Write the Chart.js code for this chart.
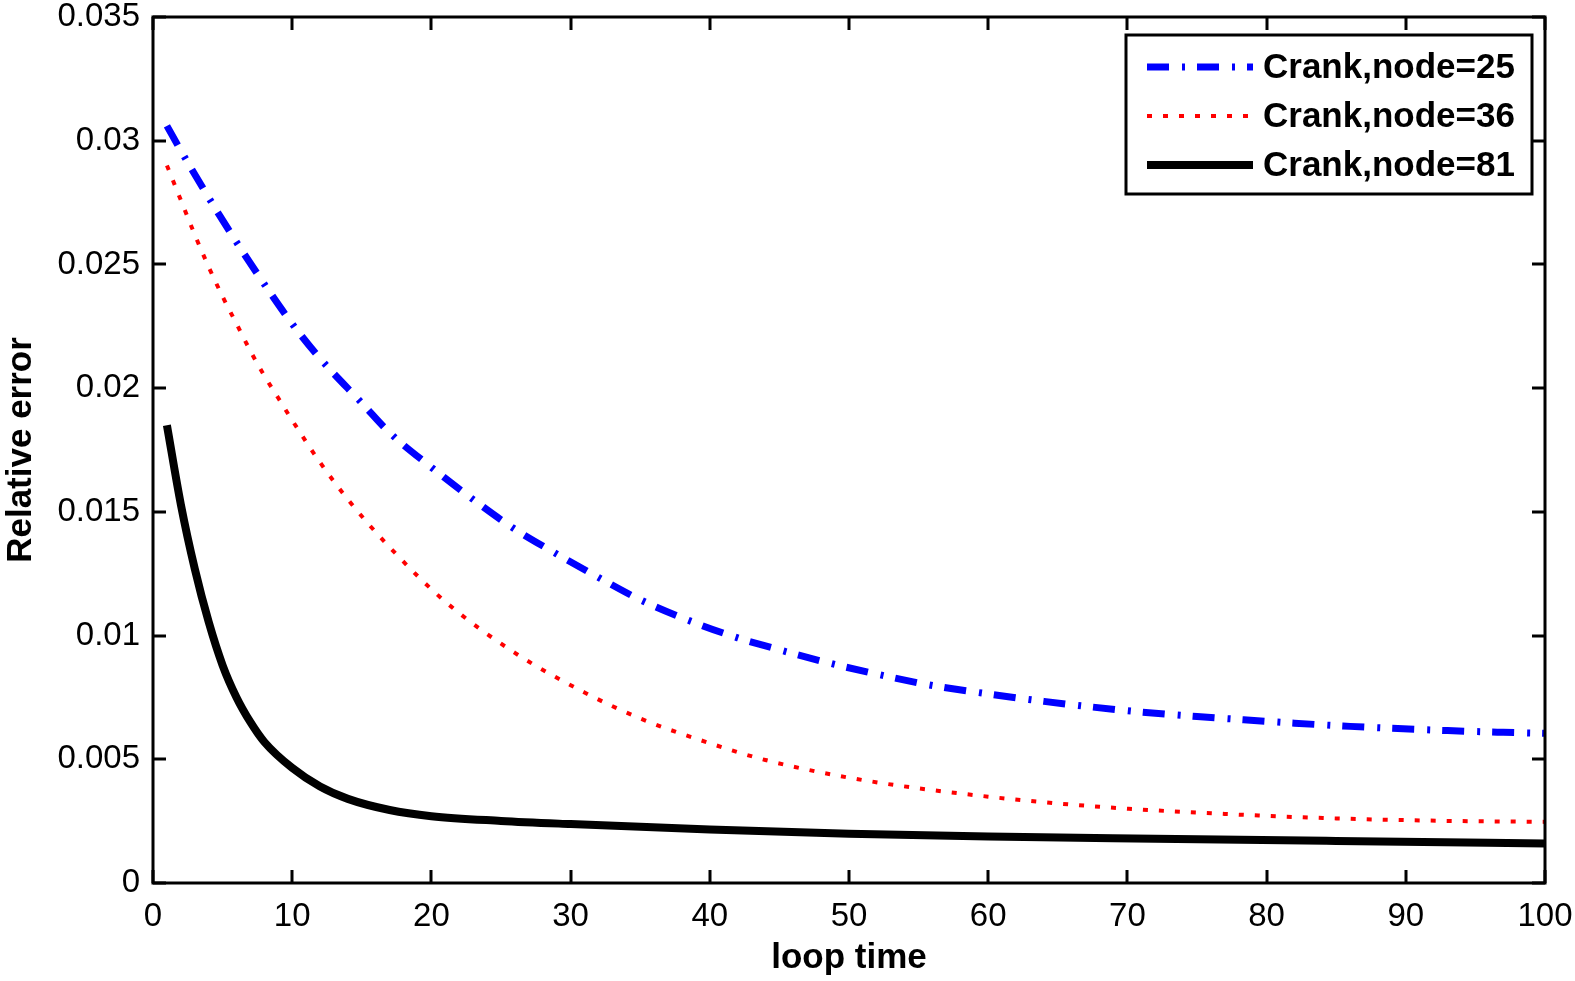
<!DOCTYPE html>
<html>
<head>
<meta charset="utf-8">
<script src="https://cdn.jsdelivr.net/npm/chart.js@4/dist/chart.umd.min.js"></script>
<style>
  html, body { margin: 0; padding: 0; background: #ffffff; }
  #wrap { width: 1575px; height: 981px; }
</style>
</head>
<body>
<div id="wrap"><canvas id="c" width="1575" height="981"></canvas></div>
<script>
// ---- data ----
const seriesLabels = ['Crank,node=25', 'Crank,node=36', 'Crank,node=81'];

const blueX = [1, 2, 4, 6, 8, 10, 12, 15, 17, 20, 23, 26, 29, 32, 35, 39, 42, 44, 49, 53, 56, 60, 64, 67, 71, 75, 78, 82, 86, 89, 93, 97, 100];
const blueY = [0.0306, 0.0296, 0.0277, 0.0259, 0.0242, 0.0226, 0.0212, 0.0194, 0.0182, 0.0168, 0.0155, 0.0143, 0.0133, 0.01235, 0.01145, 0.0105, 0.00991, 0.00958, 0.00883, 0.00832, 0.00798, 0.00764, 0.00734, 0.00714, 0.00691, 0.00673, 0.00661, 0.00646, 0.00633, 0.00625, 0.00616, 0.00609, 0.00605];

const redX = [1, 2, 3, 4, 5, 6, 7, 8, 9, 10, 12, 14, 17, 21, 26, 31, 35, 40, 44, 51, 60, 68, 77, 85, 93, 100];
const redY = [0.0290, 0.0276, 0.0262, 0.0249, 0.0237, 0.0226, 0.0215, 0.0205, 0.0196, 0.0187, 0.0170, 0.0155, 0.01357, 0.01137, 0.0093, 0.0077, 0.00665, 0.00565, 0.00497, 0.00416, 0.00349, 0.00308, 0.00279, 0.00261, 0.00251, 0.00247];

const blackX = [1, 2, 3, 4, 5, 6, 7, 8, 10, 12, 14, 17, 20, 25, 30, 40, 50, 60, 72, 85, 100];
const blackY = [0.0185, 0.0153, 0.0127, 0.01055, 0.0088, 0.0075, 0.0065, 0.0057, 0.00465, 0.0039, 0.0034, 0.00295, 0.0027, 0.00251, 0.00238, 0.00216, 0.00199, 0.00188, 0.00179, 0.0017, 0.0016];

const xTickValues = [0, 10, 20, 30, 40, 50, 60, 70, 80, 90, 100];
const yTickLabels = ['0', '0.005', '0.01', '0.015', '0.02', '0.025', '0.03', '0.035'];
const xTitle = 'loop time';
const yTitle = 'Relative error';

// ---- build ----
function pts(xs, ys) { return xs.map((x, i) => ({ x: x, y: ys[i] })); }

const FONT = '"Liberation Sans", Arial, sans-serif';
const CHART_L = 153, CHART_R = 1545, CHART_T = 17, CHART_B = 883;

const datasets = [
  { label: seriesLabels[0], data: pts(blueX, blueY), borderColor: '#0000ff', borderWidth: 7,
    borderDash: [22, 13, 3, 12], borderCapStyle: 'butt', legendDash: [22, 13, 3, 12] },
  { label: seriesLabels[1], data: pts(redX, redY), borderColor: '#ff0000', borderWidth: 4,
    borderDash: [5, 11], borderCapStyle: 'butt', legendDash: [5, 11] },
  { label: seriesLabels[2], data: pts(blackX, blackY), borderColor: '#000000', borderWidth: 8,
    borderDash: [], borderCapStyle: 'butt', legendDash: [] }
].map(d => Object.assign(d, { fill: false, pointRadius: 0, cubicInterpolationMode: 'monotone' }));

const framePlugin = {
  id: 'frame',
  afterDatasetsDraw(chart) {
    const ctx = chart.ctx, a = chart.chartArea;
    const xs = chart.scales.x, ys = chart.scales.y;
    ctx.save();
    ctx.strokeStyle = '#000';
    ctx.lineWidth = 3;
    ctx.lineCap = 'butt';
    const TL = 13;
    ctx.beginPath();
    xs.ticks.forEach(t => {
      const px = Math.round(xs.getPixelForValue(t.value));
      ctx.moveTo(px, a.bottom); ctx.lineTo(px, a.bottom - TL);
      ctx.moveTo(px, a.top); ctx.lineTo(px, a.top + TL);
    });
    ys.ticks.forEach(t => {
      const py = Math.round(ys.getPixelForValue(t.value));
      ctx.moveTo(a.left, py); ctx.lineTo(a.left + TL, py);
      ctx.moveTo(a.right, py); ctx.lineTo(a.right - TL, py);
    });
    ctx.stroke();
    ctx.strokeRect(a.left, a.top, a.right - a.left, a.bottom - a.top);

    // legend box
    const bx = 1126, by = 35, bw = 406, bh = 159;
    ctx.fillStyle = '#fff';
    ctx.fillRect(bx, by, bw, bh);
    ctx.lineWidth = 3;
    ctx.strokeRect(bx, by, bw, bh);
    const rows = [67, 116, 165];
    chart.data.datasets.forEach((d, i) => {
      ctx.save();
      ctx.strokeStyle = d.borderColor;
      ctx.lineWidth = d.borderWidth;
      ctx.setLineDash(d.legendDash);
      ctx.lineCap = 'butt';
      ctx.beginPath();
      ctx.moveTo(1147, rows[i]);
      ctx.lineTo(1253, rows[i]);
      ctx.stroke();
      ctx.restore();
      ctx.fillStyle = '#000';
      ctx.font = 'bold 35px ' + FONT;
      ctx.textBaseline = 'middle';
      ctx.textAlign = 'left';
      ctx.fillText(d.label, 1263, rows[i] + 1);
    });
    ctx.restore();
  }
};

new Chart(document.getElementById('c'), {
  type: 'line',
  data: { datasets: datasets },
  plugins: [framePlugin],
  options: {
    responsive: false,
    animation: false,
    devicePixelRatio: 1,
    layout: { padding: { left: 0, top: CHART_T, right: 1575 - CHART_R, bottom: 0 } },
    plugins: { legend: { display: false }, tooltip: { enabled: false } },
    scales: {
      x: {
        type: 'linear', min: 0, max: 100,
        afterFit(s) { s.height = 981 - CHART_B; s.paddingLeft = 0; s.paddingRight = 0; },
        afterBuildTicks(s) { s.ticks = xTickValues.map(v => ({ value: v })); },
        grid: { display: false, drawTicks: false },
        border: { display: false },
        ticks: { color: '#000', font: { family: FONT, size: 33 }, padding: 14, maxRotation: 0,
                 callback: (v) => String(v) },
        title: { display: true, text: xTitle, color: '#000',
                 font: { family: FONT, size: 35, weight: 'bold' }, padding: { top: 0, bottom: 2 } }
      },
      y: {
        type: 'linear', min: 0, max: 0.035,
        afterFit(s) { s.width = CHART_L; s.paddingTop = 0; s.paddingBottom = 0; },
        afterBuildTicks(s) { s.ticks = yTickLabels.map((l, i) => ({ value: i * 0.005 })); },
        grid: { display: false, drawTicks: false },
        border: { display: false },
        ticks: { color: '#000', font: { family: FONT, size: 33 }, padding: 13,
                 callback: (v, i) => yTickLabels[i] },
        title: { display: true, text: yTitle, color: '#000',
                 font: { family: FONT, size: 35, weight: 'bold' }, padding: { top: 0, bottom: 0 } }
      }
    }
  }
});
</script>
</body>
</html>
